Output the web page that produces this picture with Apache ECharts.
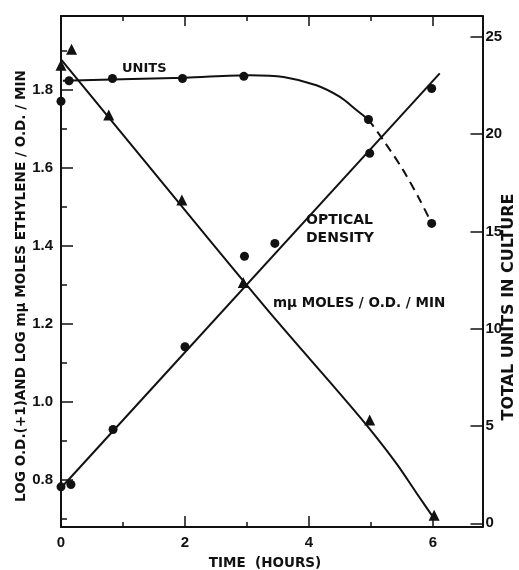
<!DOCTYPE html>
<html>
<head>
<meta charset="utf-8">
<script src="https://cdn.jsdelivr.net/npm/echarts@6/dist/echarts.min.js"></script>
<style>html,body{margin:0;padding:0;background:#fff}#c{width:519px;height:570px}</style>
</head>
<body>
<div id="c"></div>
<script>
// ---- data ----
const xTicksMajor = [0, 2, 4, 6];
const xTicksMinor = [1, 3, 5];
const leftTicksMajor = [0.8, 1.0, 1.2, 1.4, 1.6, 1.8];
const leftTicksMinor = [0.7, 0.9, 1.1, 1.3, 1.5, 1.7, 1.9];
const rightTicks = [0, 5, 10, 15, 20, 25];

// optical density: log O.D.(+1)  (left axis)
const odPoints = [[0, 0.783], [0.16, 0.789], [0.84, 0.930], [2.0, 1.142], [2.96, 1.374], [3.45, 1.407], [4.98, 1.638], [5.98, 1.804]];
const odFit = [[0.04, 0.787], [6.11, 1.843]];

// log m-mu moles ethylene / O.D. / min  (left axis)
const ratePoints = [[0, 1.864], [0.17, 1.905], [0.77, 1.736], [1.95, 1.518], [2.94, 1.307], [4.98, 0.954], [6.02, 0.71]];
const rateCurve = [[0, 1.879], [2.4, 1.415], [3.5, 1.205], [4.45, 1.031], [4.93, 0.941], [5.41, 0.843], [5.74, 0.766], [6.0, 0.706]];

// total units in culture (right axis)
const unitPoints = [[0, 21.69], [0.13, 22.74], [0.83, 22.86], [1.96, 22.86], [2.95, 22.97], [4.96, 20.75], [5.98, 15.41]];
const unitCurveSolid = [[0.03, 22.74], [2, 22.9], [3.05, 23.03], [3.59, 22.94], [4.12, 22.51], [4.5, 21.91], [4.77, 21.23], [4.96, 20.75]];
const unitCurveDashed = [[4.96, 20.75], [5.2, 19.69], [5.52, 18.15], [5.79, 16.61], [5.98, 15.41]];

const X_MIN = 0, X_MAX = 6.8;
const L_MIN = 0.68, L_MAX = 1.99;
const R_MIN = -0.19, R_MAX = 26.07;

const black = '#111';
const tickFont = {color: black, fontFamily: 'Liberation Sans', fontWeight: 'bold', fontSize: 15};
const titleFont = 'DejaVu Sans';

function xAxisDef(pos, ticks, len, line, labels) {
  return {
    type: 'value', position: pos, min: X_MIN, max: X_MAX,
    axisLine: {show: line, onZero: false, lineStyle: {color: black, width: 2}},
    axisTick: {show: true, inside: true, length: len, customValues: ticks, lineStyle: {color: black, width: 1.5}},
    axisLabel: labels ? Object.assign({show: true, margin: 8, customValues: ticks, formatter: v => String(v)}, tickFont) : {show: false},
    splitLine: {show: false}
  };
}

const chart = echarts.init(document.getElementById('c'), null, {renderer: 'canvas'});
chart.setOption({
  backgroundColor: '#fff',
  animation: false,
  grid: {left: 61, right: 36.5, top: 16, bottom: 43, containLabel: false},
  xAxis: [
    xAxisDef('bottom', xTicksMajor, 11, true, true),
    xAxisDef('bottom', xTicksMinor, 5, false, false),
    xAxisDef('top', xTicksMajor, 10, true, false),
    xAxisDef('top', xTicksMinor, 5, false, false)
  ],
  yAxis: [
    {
      type: 'value', position: 'left', min: L_MIN, max: L_MAX,
      axisLine: {show: true, onZero: false, lineStyle: {color: black, width: 2}},
      axisTick: {show: true, inside: true, length: 12, customValues: leftTicksMajor, lineStyle: {color: black, width: 1.5}},
      axisLabel: Object.assign({show: true, margin: 8, customValues: leftTicksMajor, formatter: v => v.toFixed(1)}, tickFont),
      splitLine: {show: false}
    },
    {
      type: 'value', position: 'right', min: R_MIN, max: R_MAX,
      axisLine: {show: true, onZero: false, lineStyle: {color: black, width: 2}},
      axisTick: {show: true, inside: true, length: 12, customValues: rightTicks, lineStyle: {color: black, width: 1.5}},
      axisLabel: Object.assign({show: true, margin: 3, customValues: rightTicks, formatter: v => String(v)}, tickFont),
      splitLine: {show: false}
    },
    {
      type: 'value', position: 'left', min: L_MIN, max: L_MAX,
      axisLine: {show: false},
      axisTick: {show: true, inside: true, length: 6, customValues: leftTicksMinor, lineStyle: {color: black, width: 1.5}},
      axisLabel: {show: false},
      splitLine: {show: false}
    }
  ],
  graphic: [
    {type: 'text', x: 21, y: 286, rotation: Math.PI / 2,
     style: {text: 'LOG O.D.(+1)AND LOG mμ MOLES ETHYLENE / O.D. / MIN', fill: black, font: 'bold 13.6px "' + titleFont + '"', textAlign: 'center', textVerticalAlign: 'middle'}},
    {type: 'text', x: 509, y: 307, rotation: Math.PI / 2,
     style: {text: 'TOTAL UNITS IN CULTURE', fill: black, font: 'bold 16px "' + titleFont + '"', textAlign: 'center', textVerticalAlign: 'middle'}},
    {type: 'text', x: 265, y: 563,
     style: {text: 'TIME  (HOURS)', fill: black, font: 'bold 13.5px "' + titleFont + '"', textAlign: 'center', textVerticalAlign: 'middle'}},
    {type: 'text', x: 122, y: 69,
     style: {text: 'UNITS', fill: black, font: 'bold 13px "' + titleFont + '"', textAlign: 'left', textVerticalAlign: 'middle'}},
    {type: 'text', x: 306, y: 220,
     style: {text: 'OPTICAL', fill: black, font: 'bold 14px "' + titleFont + '"', textAlign: 'left', textVerticalAlign: 'middle'}},
    {type: 'text', x: 306, y: 238,
     style: {text: 'DENSITY', fill: black, font: 'bold 14px "' + titleFont + '"', textAlign: 'left', textVerticalAlign: 'middle'}},
    {type: 'text', x: 273, y: 303,
     style: {text: 'mμ MOLES / O.D. / MIN', fill: black, font: 'bold 13.5px "' + titleFont + '"', textAlign: 'left', textVerticalAlign: 'middle'}}
  ],
  series: [
    {type: 'line', name: 'od fit', xAxisIndex: 0, yAxisIndex: 0, data: odFit, showSymbol: false, symbol: 'none',
     lineStyle: {color: black, width: 2}, clip: false, z: 2},
    {type: 'line', name: 'rate curve', xAxisIndex: 0, yAxisIndex: 0, data: rateCurve, showSymbol: false, symbol: 'none',
     smooth: 0.3, lineStyle: {color: black, width: 2}, clip: false, z: 2},
    {type: 'line', name: 'units curve', xAxisIndex: 0, yAxisIndex: 1, data: unitCurveSolid, showSymbol: false, symbol: 'none',
     smooth: 0.3, lineStyle: {color: black, width: 2}, clip: false, z: 2},
    {type: 'line', name: 'units dashed', xAxisIndex: 0, yAxisIndex: 1, data: unitCurveDashed, showSymbol: false, symbol: 'none',
     smooth: 0.3, lineStyle: {color: black, width: 2, type: [9, 6]}, clip: false, z: 2},
    {type: 'scatter', name: 'O.D.', xAxisIndex: 0, yAxisIndex: 0, data: odPoints, symbol: 'circle', symbolSize: 9,
     itemStyle: {color: black, opacity: 1}, clip: false, z: 3},
    {type: 'scatter', name: 'rate', xAxisIndex: 0, yAxisIndex: 0, data: ratePoints, symbol: 'triangle', symbolSize: 11,
     itemStyle: {color: black, opacity: 1}, clip: false, z: 3},
    {type: 'scatter', name: 'units', xAxisIndex: 0, yAxisIndex: 1, data: unitPoints, symbol: 'circle', symbolSize: 9,
     itemStyle: {color: black, opacity: 1}, clip: false, z: 3}
  ]
});
</script>
</body>
</html>
